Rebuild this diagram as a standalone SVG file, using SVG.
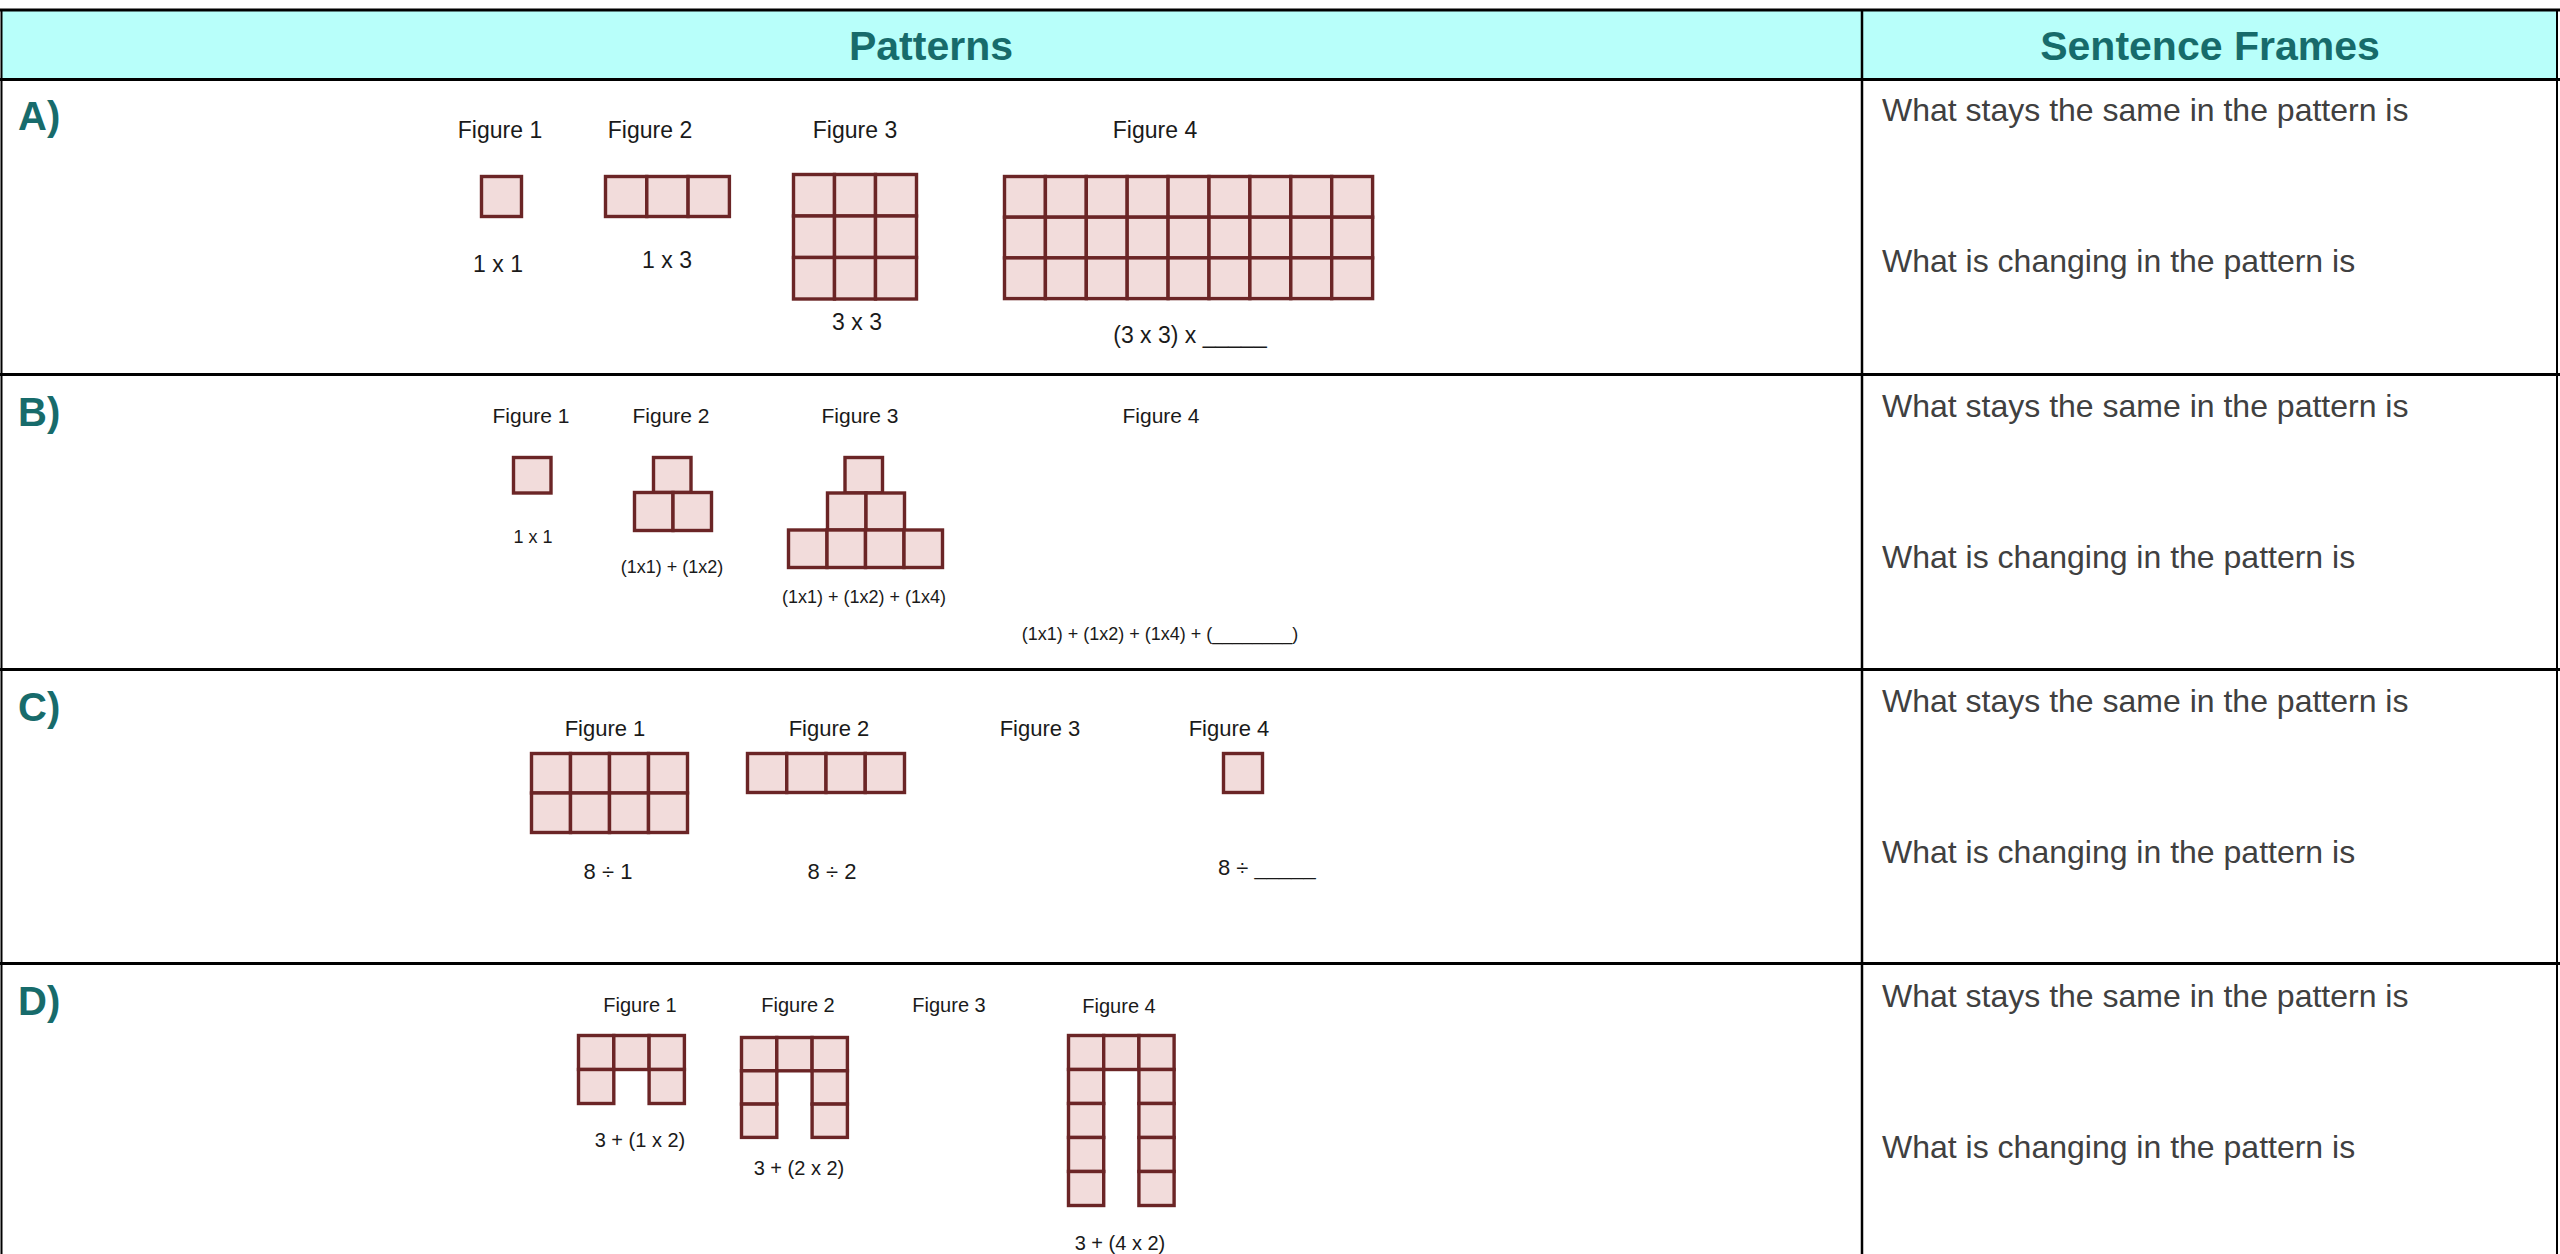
<svg xmlns="http://www.w3.org/2000/svg" width="2560" height="1254" viewBox="0 0 2560 1254">
<style>
.hdr{font-family:"Liberation Sans",Arial,sans-serif;font-weight:bold;font-size:41px;fill:#176b6b;text-anchor:middle}
.lbl{font-family:"Liberation Sans",Arial,sans-serif;font-weight:bold;font-size:40px;fill:#176b6b}
.sf{font-family:"Liberation Sans",Arial,sans-serif;font-size:32px;fill:#404040}
.fa{font-family:"Liberation Sans",Arial,sans-serif;font-size:23px;fill:#1a1a1a;text-anchor:middle}
.fb{font-family:"Liberation Sans",Arial,sans-serif;font-size:21px;fill:#1a1a1a;text-anchor:middle}
.fbs{font-family:"Liberation Sans",Arial,sans-serif;font-size:18px;fill:#1a1a1a;text-anchor:middle}
.fc{font-family:"Liberation Sans",Arial,sans-serif;font-size:22px;fill:#1a1a1a;text-anchor:middle}
.fd{font-family:"Liberation Sans",Arial,sans-serif;font-size:20px;fill:#1a1a1a;text-anchor:middle}
.cell rect{fill:#f2dcdb;stroke:#6b2526;stroke-width:3.4}
.line{stroke:#000;fill:none}
</style>

<g id="table">
  <rect id="header-fill" x="1.5" y="10" width="2555.5" height="69.5" fill="#b8fffa"/>
  <line class="line" x1="0" y1="10" x2="2560" y2="10" stroke-width="3"/>
  <line class="line" x1="0" y1="79.5" x2="2560" y2="79.5" stroke-width="3"/>
  <line class="line" x1="0" y1="374.5" x2="2560" y2="374.5" stroke-width="3"/>
  <line class="line" x1="0" y1="669.5" x2="2560" y2="669.5" stroke-width="3"/>
  <line class="line" x1="0" y1="963.5" x2="2560" y2="963.5" stroke-width="3"/>
  <line class="line" x1="1.5" y1="10" x2="1.5" y2="1254" stroke-width="2"/>
  <line class="line" x1="1862" y1="10" x2="1862" y2="1254" stroke-width="2.5"/>
  <line class="line" x1="2557" y1="10" x2="2557" y2="1254" stroke-width="2"/>
</g>

<g id="header">
  <text class="hdr" x="931" y="60">Patterns</text>
  <text class="hdr" x="2210" y="60">Sentence Frames</text>
</g>

<g id="row-labels">
  <text class="lbl" x="18" y="130">A)</text>
  <text class="lbl" x="18" y="426">B)</text>
  <text class="lbl" x="18" y="721">C)</text>
  <text class="lbl" x="18" y="1015">D)</text>
</g>

<g id="sentence-frames">
  <text class="sf" x="1882" y="121">What stays the same in the pattern is</text>
  <text class="sf" x="1882" y="272">What is changing in the pattern is</text>
  <text class="sf" x="1882" y="417">What stays the same in the pattern is</text>
  <text class="sf" x="1882" y="568">What is changing in the pattern is</text>
  <text class="sf" x="1882" y="712">What stays the same in the pattern is</text>
  <text class="sf" x="1882" y="863">What is changing in the pattern is</text>
  <text class="sf" x="1882" y="1007">What stays the same in the pattern is</text>
  <text class="sf" x="1882" y="1158">What is changing in the pattern is</text>
</g>

<!-- Row A -->
<g id="rowA">
  <text class="fa" x="500" y="138">Figure 1</text>
  <text class="fa" x="650" y="138">Figure 2</text>
  <text class="fa" x="855" y="138">Figure 3</text>
  <text class="fa" x="1155" y="138">Figure 4</text>
  <text class="fa" x="498" y="272">1 x 1</text>
  <text class="fa" x="667" y="268">1 x 3</text>
  <text class="fa" x="857" y="330">3 x 3</text>
  <text class="fa" x="1190" y="343">(3 x 3) x _____</text>
  <g id="A-fig1" class="cell">
    <rect x="481.5" y="176.5" width="40" height="40"/>
  </g>
  <g id="A-fig2" class="cell">
    <rect x="605.5" y="176.5" width="41.3" height="40"/>
    <rect x="646.8" y="176.5" width="41.3" height="40"/>
    <rect x="688.1" y="176.5" width="41.3" height="40"/>
  </g>
  <g id="A-fig3" class="cell">
    <rect x="793.5" y="174.5" width="41" height="41.5"/>
    <rect x="834.5" y="174.5" width="41" height="41.5"/>
    <rect x="875.5" y="174.5" width="41" height="41.5"/>
    <rect x="793.5" y="216" width="41" height="41.5"/>
    <rect x="834.5" y="216" width="41" height="41.5"/>
    <rect x="875.5" y="216" width="41" height="41.5"/>
    <rect x="793.5" y="257.5" width="41" height="41.5"/>
    <rect x="834.5" y="257.5" width="41" height="41.5"/>
    <rect x="875.5" y="257.5" width="41" height="41.5"/>
  </g>
  <g id="A-fig4" class="cell">
    <rect x="1004.5" y="176.5" width="40.9" height="40.7"/>
    <rect x="1045.4" y="176.5" width="40.9" height="40.7"/>
    <rect x="1086.3" y="176.5" width="40.9" height="40.7"/>
    <rect x="1127.2" y="176.5" width="40.9" height="40.7"/>
    <rect x="1168.1" y="176.5" width="40.9" height="40.7"/>
    <rect x="1209" y="176.5" width="40.9" height="40.7"/>
    <rect x="1249.9" y="176.5" width="40.9" height="40.7"/>
    <rect x="1290.8" y="176.5" width="40.9" height="40.7"/>
    <rect x="1331.7" y="176.5" width="40.9" height="40.7"/>
    <rect x="1004.5" y="217.2" width="40.9" height="40.7"/>
    <rect x="1045.4" y="217.2" width="40.9" height="40.7"/>
    <rect x="1086.3" y="217.2" width="40.9" height="40.7"/>
    <rect x="1127.2" y="217.2" width="40.9" height="40.7"/>
    <rect x="1168.1" y="217.2" width="40.9" height="40.7"/>
    <rect x="1209" y="217.2" width="40.9" height="40.7"/>
    <rect x="1249.9" y="217.2" width="40.9" height="40.7"/>
    <rect x="1290.8" y="217.2" width="40.9" height="40.7"/>
    <rect x="1331.7" y="217.2" width="40.9" height="40.7"/>
    <rect x="1004.5" y="257.9" width="40.9" height="40.7"/>
    <rect x="1045.4" y="257.9" width="40.9" height="40.7"/>
    <rect x="1086.3" y="257.9" width="40.9" height="40.7"/>
    <rect x="1127.2" y="257.9" width="40.9" height="40.7"/>
    <rect x="1168.1" y="257.9" width="40.9" height="40.7"/>
    <rect x="1209" y="257.9" width="40.9" height="40.7"/>
    <rect x="1249.9" y="257.9" width="40.9" height="40.7"/>
    <rect x="1290.8" y="257.9" width="40.9" height="40.7"/>
    <rect x="1331.7" y="257.9" width="40.9" height="40.7"/>
  </g>
</g>

<!-- Row B -->
<g id="rowB">
  <text class="fb" x="531" y="423">Figure 1</text>
  <text class="fb" x="671" y="423">Figure 2</text>
  <text class="fb" x="860" y="423">Figure 3</text>
  <text class="fb" x="1161" y="423">Figure 4</text>
  <text class="fbs" x="533" y="543">1 x 1</text>
  <text class="fbs" x="672" y="573">(1x1) + (1x2)</text>
  <text class="fbs" x="864" y="603">(1x1) + (1x2) + (1x4)</text>
  <text class="fbs" x="1160" y="640">(1x1) + (1x2) + (1x4) + (________)</text>
  <g id="B-fig1" class="cell">
    <rect x="513.5" y="457.5" width="37.5" height="35.5"/>
  </g>
  <g id="B-fig2" class="cell">
    <rect x="653.5" y="457.5" width="37.5" height="35"/>
    <rect x="634.5" y="492.5" width="38.5" height="38"/>
    <rect x="673" y="492.5" width="38.5" height="38"/>
  </g>
  <g id="B-fig3" class="cell">
    <rect x="845" y="457.5" width="37.5" height="35.5"/>
    <rect x="827.5" y="493" width="38.5" height="37"/>
    <rect x="866" y="493" width="38.5" height="37"/>
    <rect x="788.5" y="530" width="38.5" height="37.5"/>
    <rect x="827" y="530" width="38.5" height="37.5"/>
    <rect x="865.5" y="530" width="38.5" height="37.5"/>
    <rect x="904" y="530" width="38.5" height="37.5"/>
  </g>
</g>

<!-- Row C -->
<g id="rowC">
  <text class="fc" x="605" y="736">Figure 1</text>
  <text class="fc" x="829" y="736">Figure 2</text>
  <text class="fc" x="1040" y="736">Figure 3</text>
  <text class="fc" x="1229" y="736">Figure 4</text>
  <text class="fc" x="608" y="879">8 ÷ 1</text>
  <text class="fc" x="832" y="879">8 ÷ 2</text>
  <text class="fc" x="1218" y="875" style="text-anchor:start">8 ÷ _____</text>
  <g id="C-fig1" class="cell">
    <rect x="531.5" y="753.5" width="39" height="39.5"/>
    <rect x="570.5" y="753.5" width="39" height="39.5"/>
    <rect x="609.5" y="753.5" width="39" height="39.5"/>
    <rect x="648.5" y="753.5" width="39" height="39.5"/>
    <rect x="531.5" y="793" width="39" height="39.5"/>
    <rect x="570.5" y="793" width="39" height="39.5"/>
    <rect x="609.5" y="793" width="39" height="39.5"/>
    <rect x="648.5" y="793" width="39" height="39.5"/>
  </g>
  <g id="C-fig2" class="cell">
    <rect x="747.5" y="753.5" width="39.25" height="39"/>
    <rect x="786.75" y="753.5" width="39.25" height="39"/>
    <rect x="826" y="753.5" width="39.25" height="39"/>
    <rect x="865.25" y="753.5" width="39.25" height="39"/>
  </g>
  <g id="C-fig4" class="cell">
    <rect x="1223.5" y="753.5" width="39" height="39"/>
  </g>
</g>

<!-- Row D -->
<g id="rowD">
  <text class="fd" x="640" y="1012">Figure 1</text>
  <text class="fd" x="798" y="1012">Figure 2</text>
  <text class="fd" x="949" y="1012">Figure 3</text>
  <text class="fd" x="1119" y="1013">Figure 4</text>
  <text class="fd" x="640" y="1147">3 + (1 x 2)</text>
  <text class="fd" x="799" y="1175">3 + (2 x 2)</text>
  <text class="fd" x="1120" y="1250">3 + (4 x 2)</text>
  <g id="D-fig1" class="cell">
    <rect x="578.5" y="1035.5" width="35.3" height="34"/>
    <rect x="613.8" y="1035.5" width="35.3" height="34"/>
    <rect x="649.1" y="1035.5" width="35.3" height="34"/>
    <rect x="578.5" y="1069.5" width="35.3" height="34"/>
    <rect x="649.1" y="1069.5" width="35.3" height="34"/>
  </g>
  <g id="D-fig2" class="cell">
    <rect x="741.5" y="1037.5" width="35.3" height="33.3"/>
    <rect x="776.8" y="1037.5" width="35.3" height="33.3"/>
    <rect x="812.1" y="1037.5" width="35.3" height="33.3"/>
    <rect x="741.5" y="1070.8" width="35.3" height="33.3"/>
    <rect x="812.1" y="1070.8" width="35.3" height="33.3"/>
    <rect x="741.5" y="1104.1" width="35.3" height="33.3"/>
    <rect x="812.1" y="1104.1" width="35.3" height="33.3"/>
  </g>
  <g id="D-fig4" class="cell">
    <rect x="1068.5" y="1035.5" width="35.2" height="34"/>
    <rect x="1103.7" y="1035.5" width="35.2" height="34"/>
    <rect x="1138.9" y="1035.5" width="35.2" height="34"/>
    <rect x="1068.5" y="1069.5" width="35.2" height="34"/>
    <rect x="1138.9" y="1069.5" width="35.2" height="34"/>
    <rect x="1068.5" y="1103.5" width="35.2" height="34"/>
    <rect x="1138.9" y="1103.5" width="35.2" height="34"/>
    <rect x="1068.5" y="1137.5" width="35.2" height="34"/>
    <rect x="1138.9" y="1137.5" width="35.2" height="34"/>
    <rect x="1068.5" y="1171.5" width="35.2" height="34"/>
    <rect x="1138.9" y="1171.5" width="35.2" height="34"/>
  </g>
</g>
</svg>
